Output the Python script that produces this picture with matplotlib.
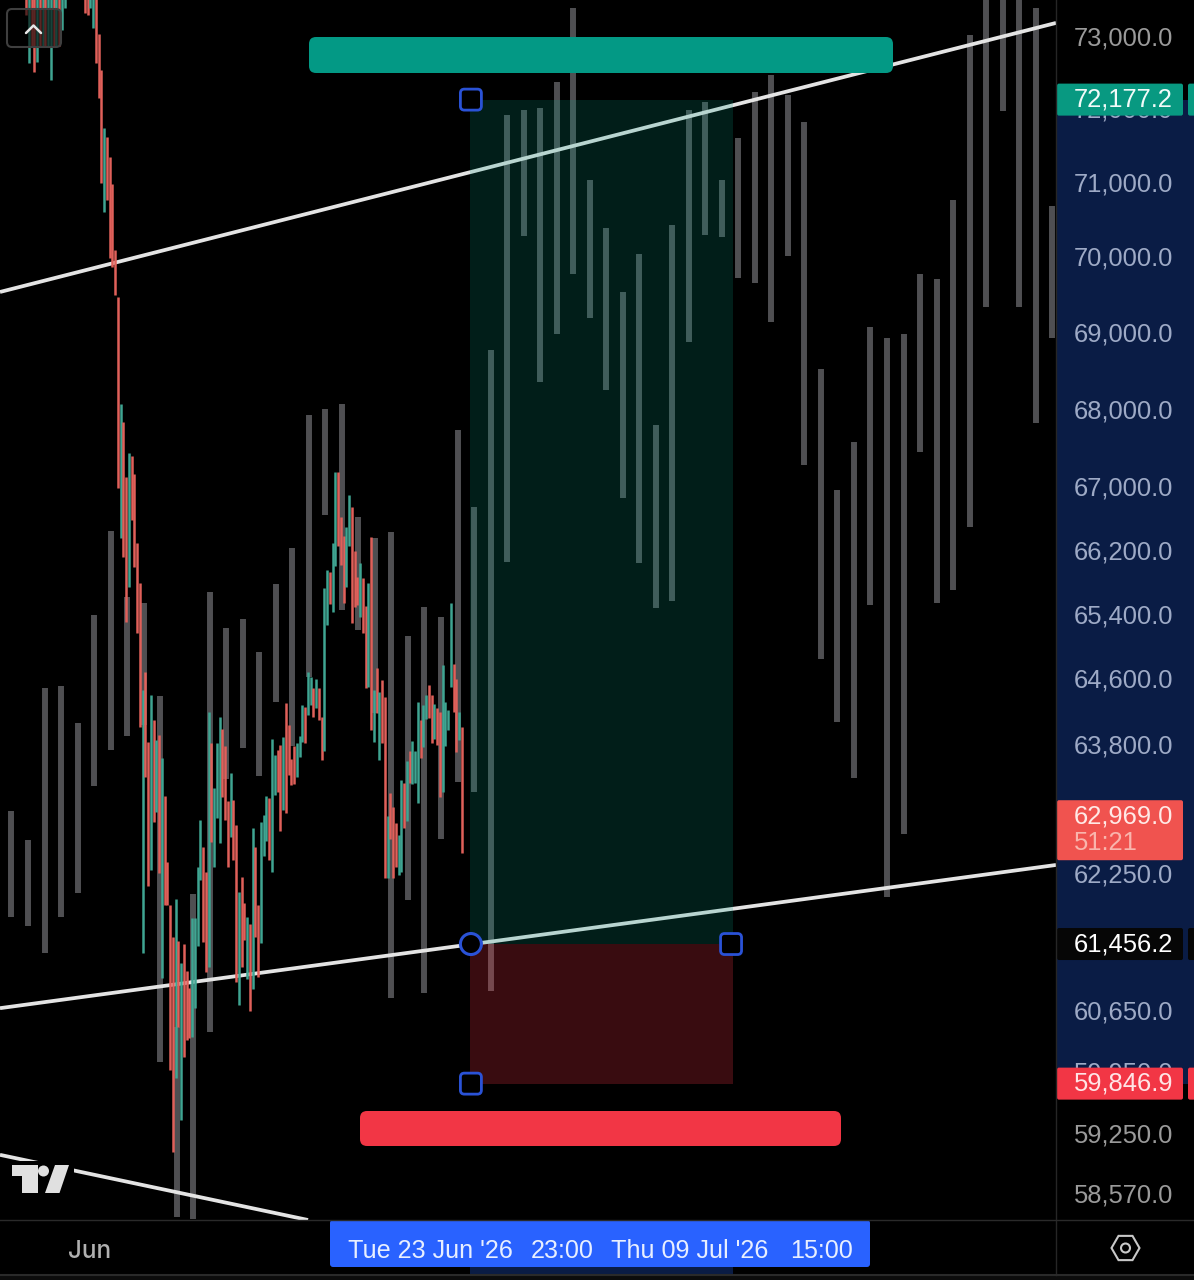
import numpy as np
import matplotlib
matplotlib.use('Agg')
import matplotlib.pyplot as plt
from matplotlib.patches import FancyBboxPatch, Rectangle, Circle, Polygon, RegularPolygon
from matplotlib.ticker import FixedLocator, NullLocator, FixedFormatter

plt.rcParams['font.family'] = ['Inter', 'DejaVu Sans']
NUM_FONT = ['Liberation Sans', 'DejaVu Sans']  # gleich breite Ziffern

# Kursachse
price_ticks = [73000, 72000, 71000, 70000, 69000, 68000, 67000, 66200, 65400, 64600,
               63800, 62250, 60650, 59950, 59250, 58570]
target_price = 72177.2
entry_price = 61456.2
stop_price = 59846.9
last_price = 62969.0
countdown = '51:21'

# Projektion (graue Balken, Tagesraster)
ghost_high = [63020, 62675, 64510, 64535, 64085, 65410, 66470, 65635, 65560, 64410,
              60480, 62030, 65700, 65250, 65360, 64955, 65800, 66255, 67950, 68025,
              68090, 66645, 66380, 66455, 65150, 65510, 65390, 67755, 66770, 68800,
              71940, 72005, 72035, 72390, 73420, 71055, 70410, 69560, 70065, 67820,
              70450, 72005, 72115, 71055, 71630, 72255, 72490, 72215, 71845, 68545,
              66985, 67600, 69095, 68950, 69005, 69800, 69730, 70785, 73045, 73900,
              73900, 73900, 73420, 70705]
ghost_low = [61760, 61655, 61340, 61760, 62045, 63320, 63760, 63925, 64060, 60080,
             58335, 58310, 60425, 63400, 63780, 63440, 64340, 63805, 64645, 66670,
             65475, 65230, 64200, 60815, 61960, 60875, 62685, 63370, 63250, 60900,
             66075, 70305, 68380, 69005, 69800, 69215, 68270, 66885, 66065, 65500,
             65585, 68900, 70320, 70290, 69745, 69680, 69165, 70040, 67305, 64870,
             64095, 63415, 65535, 61995, 62745, 67475, 65560, 65725, 66520, 69360,
             71995, 69360, 67845, 68950]

# 4h-Kerzen oben links, oberer Rand abgeschnitten
top_high = [73900] * 15
top_low = [73320, 72650, 72890, 72530, 72670, 72890, 72890, 72890, 72890, 72420,
           72890, 72890, 72890, 73110, 73420]
top_up = [0, 1, 0, 0, 1, 0, 1, 0, 1, 1, 0, 1, 0, 1, 1]

# 4h-Kerzen Hauptteil
candle_high = [73900, 73900, 73900, 73900, 73900, 73050, 72560, 71760, 71640, 71370,
               71000, 70120, 69490, 68090, 67860, 67150, 67460, 67420, 67190, 66320,
               65810, 64485, 64710, 63850, 64430, 64120, 63880, 63940, 63660, 63200,
               62410, 61900, 61530, 61970, 61480, 61225, 61450, 61130, 60930, 61750,
               61750, 62350, 62910, 62590, 62290, 64215, 63840, 63300, 63840, 64155,
               64010, 63800, 63140, 63480, 63150, 62850, 62055, 62230, 61925, 61760,
               61680, 62820, 62590, 61900, 62890, 62970, 63200, 63175, 63890, 63695,
               63760, 63820, 63915, 64325, 64060, 63650, 63805, 63840, 63925, 64300,
               64275, 64710, 64650, 64510, 64620, 64510, 64155, 65750, 65975, 65950,
               66320, 67220, 67220, 66645, 66405, 66520, 66920, 66770, 66215, 65890,
               66065, 65875, 65525, 65810, 66390, 64485, 64760, 64460, 64610, 64400,
               62960, 63235, 63065, 62875, 62735, 63390, 63355, 63620, 63745, 63865,
               63745, 64340, 64120, 64300, 64420, 64550, 64420, 64310, 64265, 64215,
               64795, 64340, 64240, 65560, 64810, 64620, 64215, 64035]
candle_low = [73350, 73320, 73420, 73140, 72650, 72170, 71010, 70625, 70785, 70010,
              69890, 69520, 67010, 66380, 66140, 65330, 65760, 66610, 66010, 65190,
              64035, 61340, 63430, 62130, 62320, 62890, 63007, 62280, 61050, 61900,
              61900, 59990, 59060, 59900, 60480, 59420, 60140, 60335, 60360, 60370,
              60700, 61425, 62200, 61470, 61120, 61180, 62650, 62350, 62935, 62640,
              63190, 62910, 62350, 62710, 62440, 61000, 60735, 61180, 61490, 61040,
              60665, 60920, 61530, 61060, 61460, 62480, 62660, 62440, 62290, 63210,
              63250, 62780, 63030, 62995, 63455, 63330, 63345, 63430, 63670, 63850,
              63840, 64180, 64300, 64155, 64265, 64120, 63635, 63745, 65290, 65550,
              65450, 66030, 66280, 66040, 65560, 65760, 66280, 65315, 65510, 65535,
              65390, 65190, 64510, 64520, 64000, 63850, 64205, 63635, 63840, 62220,
              62220, 62690, 62220, 62350, 62260, 62290, 62820, 62900, 63355, 63345,
              63355, 63115, 63660, 63790, 64130, 64140, 63840, 63890, 63815, 63185,
              63250, 63805, 64000, 64520, 64215, 63730, 63880, 62520]
candle_up = [0, 0, 1, 1, 0, 0, 0, 1, 0, 0,
             0, 0, 0, 1, 0, 0, 1, 0, 0, 0,
             0, 1, 0, 0, 1, 0, 1, 0, 1, 0,
             0, 0, 0, 1, 0, 1, 0, 0, 0, 1,
             1, 1, 1, 0, 0, 1, 0, 1, 1, 1,
             0, 0, 0, 1, 0, 0, 1, 0, 0, 1,
             0, 1, 0, 0, 1, 1, 1, 0, 1, 1,
             0, 0, 1, 0, 0, 0, 0, 1, 1, 1,
             0, 1, 1, 0, 1, 0, 0, 1, 1, 0,
             1, 1, 0, 0, 0, 1, 1, 0, 0, 0,
             1, 0, 0, 1, 0, 1, 0, 1, 0, 0,
             1, 0, 0, 0, 1, 1, 0, 1, 0, 1,
             1, 1, 0, 1, 1, 0, 0, 1, 0, 0,
             1, 1, 1, 1, 0, 0, 1, 0]

# Trendlinien: Tag links/rechts, Preis links/rechts
channel_x = [-0.696, 63.23]
channel_top = [69558, 73210]
channel_bottom = [60700, 62376]
lower_x = [-0.696, 17.95]
lower_y = [59030, 58303]

# Long-Position (Box leicht neben den Schild-Werten, wie im Bild)
box_left = 27.75
box_right = 43.68
box_top = 72150
box_entry = 61445
box_stop = 59835

W, H = 1194, 1280
PANEL_X = 1056
AXIS_Y = 1220

TEAL = '#089981'
RED = '#f23645'
CANDLE_UP = '#3fa592'
CANDLE_DOWN = '#e0605a'
GHOST = '#4f4f52'
NAVY = '#0a1c45'
BLUE = '#2a52d6'
TICK_GREY = '#9a9a9a'
TICK_NAVY = '#9eaac6'
NUM_SIZE = 18.4

fig = plt.figure(figsize=(W / 100, H / 100), dpi=100, facecolor='black')

back = fig.add_axes([0, 0, 1, 1], zorder=0)
back.set_xlim(0, W)
back.set_ylim(H, 0)
back.axis('off')

ax = fig.add_axes([0, 1 - AXIS_Y / H, PANEL_X / W, AXIS_Y / H], zorder=1)
ax.patch.set_alpha(0)
ax.set_yscale('log')
ax.set_xlim(-0.696, 63.23)
ax.set_ylim(58303, 73530)
for side in ax.spines.values():
    side.set_visible(False)
ax.xaxis.set_visible(False)
ax.yaxis.tick_right()
ax.yaxis.set_major_locator(FixedLocator(price_ticks))
ax.yaxis.set_major_formatter(FixedFormatter([f'{v:,.1f}' for v in price_ticks]))
ax.yaxis.set_minor_locator(NullLocator())
ax.tick_params(axis='y', length=0, pad=13, labelsize=NUM_SIZE)
for tick, value in zip(ax.yaxis.get_major_ticks(), price_ticks):
    over_navy = stop_price < value < target_price
    tick.label2.set_color(TICK_NAVY if over_navy else TICK_GREY)
    tick.label2.set_family(NUM_FONT)
    tick.label2.set_verticalalignment('center')

over = fig.add_axes([0, 0, 1, 1], zorder=2)
over.set_xlim(0, W)
over.set_ylim(H, 0)
over.axis('off')
over.patch.set_alpha(0)


def rounded(target, x0, y0, x1, y1, r, **kw):
    patch = FancyBboxPatch((x0, y0), x1 - x0, y1 - y0,
                           boxstyle=f'round,pad=0,rounding_size={r}', **kw)
    target.add_patch(patch)
    return patch


def to_px(x, price):
    px, py = ax.transData.transform((x, price))
    return px, H - py


# Balken
ghost_x = np.arange(len(ghost_high))
ax.vlines(ghost_x, ghost_low, ghost_high, color=GHOST, linewidth=4.3, capstyle='butt', zorder=1)

# Trendlinien
line_style = dict(color='#e4e4e4', linewidth=2.7, solid_capstyle='butt', zorder=2)
ax.plot(channel_x, channel_top, **line_style)
ax.plot(channel_x, channel_bottom, **line_style)
ax.plot(lower_x, lower_y, **line_style)

# Positions-Box
ax.fill_between([box_left, box_right], box_entry, box_top, color=TEAL, alpha=0.2,
                linewidth=0, zorder=3)
ax.fill_between([box_left, box_right], box_stop, box_entry, color=RED, alpha=0.24,
                linewidth=0, zorder=3)

# Kerzen
n = len(candle_high)
candle_x = 27.27 - (n - 1 - np.arange(n)) / 6
candle_colors = [CANDLE_UP if u else CANDLE_DOWN for u in candle_up]
ax.vlines(candle_x, candle_low, candle_high, colors=candle_colors, linewidth=1.8,
          capstyle='butt', zorder=4)
top_x = 0.878 + np.arange(len(top_high)) / 6
top_colors = [CANDLE_UP if u else CANDLE_DOWN for u in top_up]
ax.vlines(top_x, top_low, top_high, colors=top_colors, linewidth=1.8, capstyle='butt', zorder=4)

# Rechte Preisskala: Bereich der Position
_, y_target = to_px(box_left, box_top)
_, y_entry = to_px(box_left, box_entry)
_, y_stop = to_px(box_left, box_stop)
_, y_last = to_px(box_left, last_price)
x_left, _ = to_px(box_left, box_entry)
x_right, _ = to_px(box_right, box_entry)

back.add_patch(Rectangle((PANEL_X, y_target), W - PANEL_X, y_stop - y_target, color=NAVY, lw=0))
back.add_patch(Rectangle((x_left, 1266), x_right - x_left, 8, color=NAVY, lw=0))

# Trennlinien
over.plot([PANEL_X, PANEL_X], [0, 1275], color='#262626', lw=1)
over.plot([0, W], [AXIS_Y, AXIS_Y], color='#2a2a2a', lw=1)
over.plot([0, W], [1275, 1275], color='#2a2a2a', lw=1.5)
over.add_patch(Rectangle((0, 1276), W, 4, color='#0c0c0c', lw=0))

# Preisschilder
for price, yc, face, text_color in [(target_price, y_target, TEAL, '#f2fbf9'),
                                    (entry_price, y_entry, '#060606', 'white'),
                                    (stop_price, y_stop, RED, '#ffe4e6')]:
    rounded(over, PANEL_X + 1, yc - 16, 1183, yc + 16, 2, facecolor=face, edgecolor='none')
    rounded(over, 1188, yc - 16, 1200, yc + 16, 2, facecolor=face, edgecolor='none')
    over.text(1074, yc, f'{price:,.1f}', color=text_color, fontsize=NUM_SIZE, family=NUM_FONT,
              ha='left', va='center')

rounded(over, PANEL_X + 1, y_last - 15, 1183, y_last + 45, 2, facecolor='#f0534f', edgecolor='none')
over.text(1074, y_last + 1, f'{last_price:,.1f}', color='#ffe9e6', fontsize=NUM_SIZE, family=NUM_FONT,
          ha='left', va='center')
over.text(1074, y_last + 28, countdown, color='#f9b5ad', fontsize=NUM_SIZE, family=NUM_FONT,
          ha='left', va='center')

# Griffe
for x, y in [(x_left + 1, y_target), (x_left + 1, y_stop), (x_right - 2, y_entry)]:
    rounded(over, x - 10.5, y - 10.5, x + 10.5, y + 10.5, 4, facecolor='black', edgecolor=BLUE, linewidth=2)
over.add_patch(Circle((x_left + 1, y_entry), 10.5, facecolor='black', edgecolor=BLUE, linewidth=2.2))

# Labels ueber/unter der Box
rounded(over, 309, 37, 893, 73, 7, facecolor='#039985', edgecolor='none')
rounded(over, 360, 1111, 841, 1146, 7, facecolor=RED, edgecolor='none')

# Zeitachse
over.text(90, 1249, 'Jun', color='#b0b0b0', fontsize=17.5, fontweight='medium', ha='center', va='center_baseline')
rounded(over, 330, 1220, 870, 1267, 3, facecolor='#2962ff', edgecolor='none')
for x, label in [(348, "Tue 23 Jun '26"), (531, '23:00'), (611, "Thu 09 Jul '26"), (790, '15:00')]:
    over.text(x, 1248, label, color='#e8efff', fontsize=18.1, family=NUM_FONT, ha='left', va='center_baseline')

# Logo
over.add_patch(Rectangle((8, 1161), 66, 36, color='black', lw=0))
logo_grey = '#e0e0e0'
over.add_patch(Polygon([(12, 1165), (38, 1165), (38, 1193), (22, 1193), (22, 1176), (12, 1176)],
                       closed=True, color=logo_grey, lw=0))
over.add_patch(Circle((43.5, 1171), 5.5, color=logo_grey, lw=0))
over.add_patch(Polygon([(55, 1165), (69, 1165), (59.5, 1193), (45, 1193)], closed=True, color=logo_grey, lw=0))

# Knopf oben links
rounded(over, 7, 9, 61, 47, 5, facecolor=(0, 0, 0, 0.6), edgecolor='#3f3f3f', linewidth=1.5)
over.plot([26, 33.5, 41], [33, 25.5, 33], color='#e6e6e6', lw=1.8, solid_capstyle='round')

# Einstellungen
over.add_patch(RegularPolygon((1125.5, 1248), 6, radius=14, orientation=np.pi / 6,
                              facecolor='none', edgecolor='#c8c8c8', linewidth=1.5))
over.add_patch(Circle((1125.5, 1248), 4.5, facecolor='none', edgecolor='#c8c8c8', linewidth=1.5))

fig.savefig('out.png', dpi=100, facecolor='black')
